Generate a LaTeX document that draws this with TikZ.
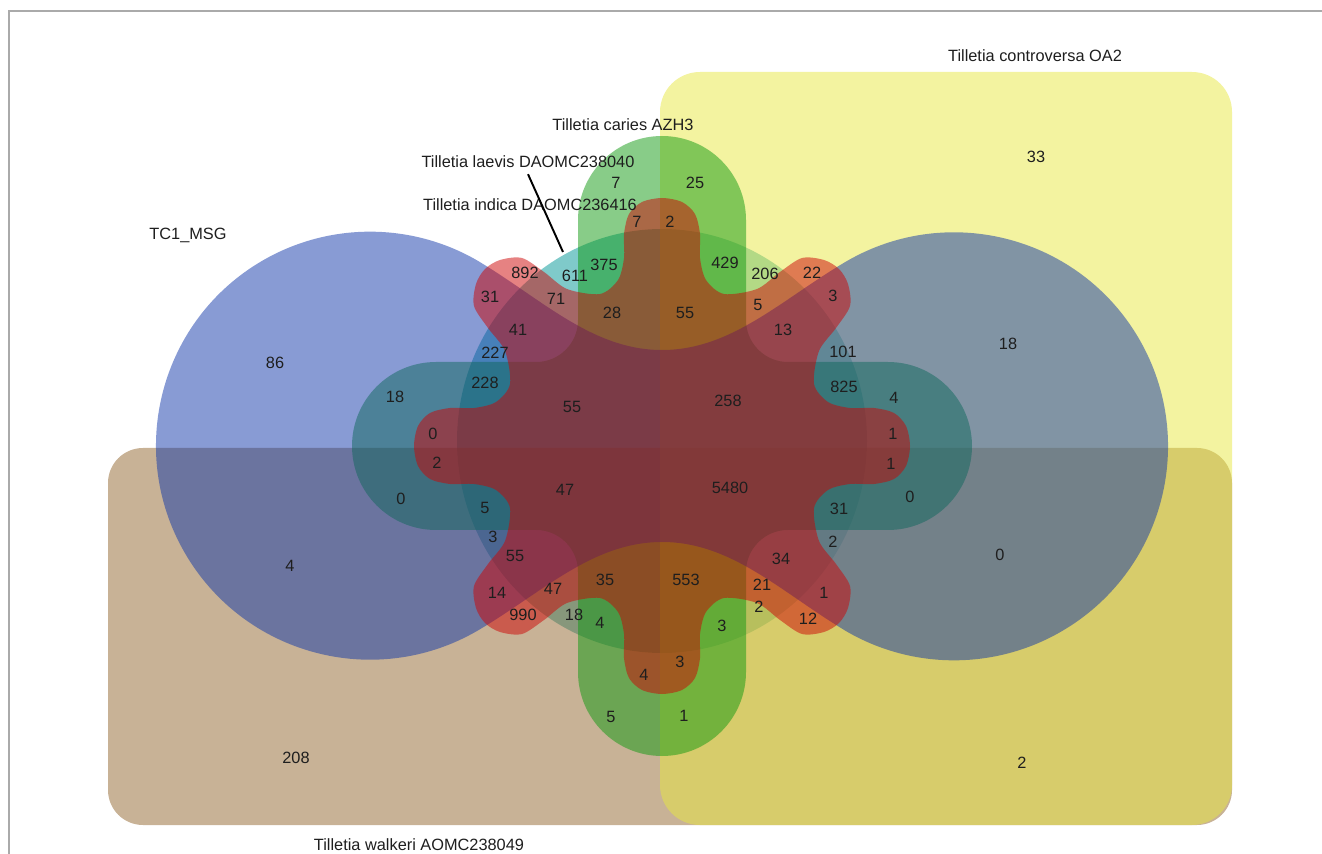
\documentclass[tikz,border=0pt]{standalone}
\usepackage{fontspec}
\setmainfont{Liberation Sans}
\usetikzlibrary{positioning}

\definecolor{setcyan}{RGB}{0,150,150}
\definecolor{settan}{RGB}{145,101,45}
\definecolor{setyellow}{RGB}{231,231,65}
\definecolor{setgreen}{RGB}{17,153,17}
\definecolor{setblue}{RGB}{17,55,169}
\definecolor{setred}{RGB}{205,5,5}
\definecolor{framegray}{RGB}{170,170,170}
\definecolor{ink}{RGB}{30,30,30}

\begin{document}
\begin{tikzpicture}[%
    x=0.02cm,
    y=-0.02cm,
    venn/.style={fill opacity=0.5},
    count/.style={font=\fontsize{9.3}{11}\selectfont, text=ink, inner sep=1pt},
    setname/.style={font=\fontsize{9.3}{11}\selectfont, text=ink},
    pointer/.style={draw=black, line width=1.1pt}
  ]

  \useasboundingbox (0,0) rectangle (1322,854);
  \draw[framegray, line width=1.1pt] (1322,11) -- (9,11) -- (9,854);

  % laevis
  \begin{scope}[shift={(662,446)}]
    \fill[venn, fill=setcyan] (0,-5) ellipse [x radius=205, y radius=212];
  \end{scope}
  % walkeri, controversa
  \fill[venn, fill=settan, rounded corners=0.7cm] (108,448) rectangle (1232,825);
  \fill[venn, fill=setyellow, rounded corners=0.8cm] (660,72) rectangle (1232,825);

  \begin{scope}[shift={(662,446)}]
    % caries
    \fill[venn, fill=setgreen] (-84,226) arc[start angle=180, end angle=0, radius=84]
      -- (84,126) arc[start angle=180, end angle=270, radius=42]
      -- (226,84) arc[start angle=90, end angle=-90, radius=84]
      -- (126,-84) arc[start angle=90, end angle=180, radius=42]
      -- (84,-226) arc[start angle=0, end angle=-180, radius=84]
      -- (-84,-126) arc[start angle=0, end angle=90, radius=42]
      -- (-226,-84) arc[start angle=-90, end angle=-270, radius=84]
      -- (-126,84) arc[start angle=-90, end angle=0, radius=42]
      -- cycle;
    % TC1_MSG
    \fill[venn, fill=setblue] (-185,185) arc[start angle=60, end angle=300, radius=214]
      .. controls (-120,-147) and (-70,-96) .. (0,-96)
      .. controls (70,-96) and (120,-147) .. (185,-185)
      arc[start angle=240, end angle=480, radius=214]
      .. controls (120,147) and (70,96) .. (0,96)
      .. controls (-70,96) and (-120,147) .. (-185,185) -- cycle;
    % indica
    \fill[venn, fill=setred] plot[smooth cycle] coordinates {
      (0,248) (-20,244) (-33,232) (-38,212) (-38,188) (-44,166) (-62,152)
      (-95,157) (-118,174) (-140,188) (-162,186) (-177,177) (-186,162)
      (-188,140) (-174,118) (-157,95) (-152,62) (-166,44) (-188,38)
      (-212,38) (-232,33) (-244,20) (-248,0)
      (-244,-20) (-232,-33) (-212,-38) (-188,-38) (-166,-44) (-152,-62)
      (-157,-95) (-174,-118) (-188,-140) (-186,-162) (-177,-177) (-162,-186)
      (-140,-188) (-118,-174) (-95,-157) (-62,-152) (-44,-166) (-38,-188)
      (-38,-212) (-33,-232) (-20,-244) (0,-248)
      (20,-244) (33,-232) (38,-212) (38,-188) (44,-166) (62,-152)
      (95,-157) (118,-174) (140,-188) (162,-186) (177,-177) (186,-162)
      (188,-140) (174,-118) (157,-95) (152,-62) (166,-44) (188,-38)
      (212,-38) (232,-33) (244,-20) (248,0)
      (244,20) (232,33) (212,38) (188,38) (166,44) (152,62) (157,95)
      (174,118) (188,140) (186,162) (177,177) (162,186) (140,188)
      (118,174) (95,157) (62,152) (44,166) (38,188) (38,212) (33,232)
      (20,244)};
  \end{scope}

  % set names
  \node[setname] (controversa) at (1035,56) {Tilletia controversa OA2};
  \node[setname] (caries) at (623,125) {Tilletia caries AZH3};
  \node[setname] (laevis) at (528,162) {Tilletia laevis DAOMC238040};
  \node[setname] (indica) at (530,205) {Tilletia indica DAOMC236416};
  \node[setname] (tc1) at (188,235) {TC1\_MSG};
  \node[setname] (walkeri) at (419,845) {Tilletia walkeri AOMC238049};
  \coordinate (laevis tip) at (563,252);
  \draw[pointer] (laevis.south) -- (laevis tip);

  % counts
  \node[count] (c1) at (1036,157) {33};
  \node[count] (c2) at (1008,344) {18};
  \node[count] (c3) at (1000,555) {0};
  \node[count] (c4) at (1022,763) {2};
  \node[count] (c5) at (275,363) {86};
  \node[count] (c6) at (290,566) {4};
  \node[count] (c7) at (296,758) {208};
  \node[count] (c8) at (395,397) {18};
  \node[count] (c9) at (401,499) {0};
  \node[count] (c10) at (616,183) {7};
  \node[count] (c11) at (695,183) {25};
  \node[count] (c12) at (637,222) {7};
  \node[count] (c13) at (670,222) {2};
  \node[count] (c14) at (525,273) {892};
  \node[count] (c15) at (575,276) {611};
  \node[count] (c16) at (604,265) {375};
  \node[count] (c17) at (725,263) {429};
  \node[count] (c18) at (765,274) {206};
  \node[count] (c19) at (812,273) {22};
  \node[count] (c20) at (490,297) {31};
  \node[count] (c21) at (556,299) {71};
  \node[count] (c22) at (612,313) {28};
  \node[count] (c23) at (685,313) {55};
  \node[count] (c24) at (758,305) {5};
  \node[count] (c25) at (833,296) {3};
  \node[count] (c26) at (518,330) {41};
  \node[count] (c27) at (783,330) {13};
  \node[count] (c28) at (495,353) {227};
  \node[count] (c29) at (843,352) {101};
  \node[count] (c30) at (485,383) {228};
  \node[count] (c31) at (844,387) {825};
  \node[count] (c32) at (894,398) {4};
  \node[count] (c33) at (572,407) {55};
  \node[count] (c34) at (728,401) {258};
  \node[count] (c35) at (433,434) {0};
  \node[count] (c36) at (893,434) {1};
  \node[count] (c37) at (437,463) {2};
  \node[count] (c38) at (891,464) {1};
  \node[count] (c39) at (565,490) {47};
  \node[count] (c40) at (730,488) {5480};
  \node[count] (c41) at (910,497) {0};
  \node[count] (c42) at (485,508) {5};
  \node[count] (c43) at (839,509) {31};
  \node[count] (c44) at (493,537) {3};
  \node[count] (c45) at (833,542) {2};
  \node[count] (c46) at (515,556) {55};
  \node[count] (c47) at (781,559) {34};
  \node[count] (c48) at (605,580) {35};
  \node[count] (c49) at (686,580) {553};
  \node[count] (c50) at (762,585) {21};
  \node[count] (c51) at (497,593) {14};
  \node[count] (c52) at (553,589) {47};
  \node[count] (c53) at (824,593) {1};
  \node[count] (c54) at (523,615) {990};
  \node[count] (c55) at (574,615) {18};
  \node[count] (c56) at (600,623) {4};
  \node[count] (c57) at (722,626) {3};
  \node[count] (c58) at (759,607) {2};
  \node[count] (c59) at (808,619) {12};
  \node[count] (c60) at (680,662) {3};
  \node[count] (c61) at (644,675) {4};
  \node[count] (c62) at (611,717) {5};
  \node[count] (c63) at (684,716) {1};
\end{tikzpicture}
\end{document}
